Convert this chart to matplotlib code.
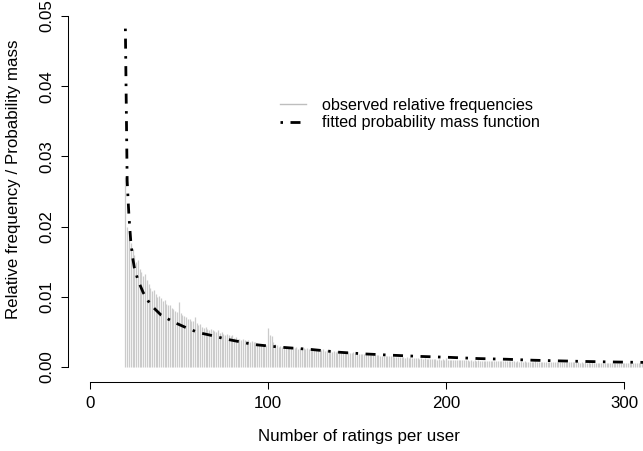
import matplotlib
matplotlib.use("Agg")
import matplotlib.pyplot as plt
from matplotlib.lines import Line2D

plt.rcParams["font.family"] = ["Liberation Sans", "DejaVu Sans"]

# observed relative frequencies, one value per count starting at 20
first_count = 20
observed = [
    0.0270, 0.0200, 0.0188, 0.0176, 0.0168, 0.0160, 0.0150, 0.0152, 0.0140, 0.0136,
    0.0130, 0.0133, 0.0124, 0.0118, 0.0112, 0.0108, 0.0110, 0.0104, 0.0100, 0.0101,
    0.0098, 0.0094, 0.0095, 0.0090, 0.0088, 0.0089, 0.0084, 0.0083, 0.0080, 0.0079,
    0.0092, 0.0077, 0.0074, 0.0073, 0.0071, 0.0069, 0.0068, 0.0066, 0.0065, 0.0071,
    0.0062, 0.0060, 0.0061, 0.0057, 0.0056, 0.0057, 0.0054, 0.0053, 0.0054, 0.0052,
    0.0051, 0.0050, 0.0052, 0.0049, 0.0050, 0.0047, 0.0046, 0.0047, 0.0045, 0.0044,
    0.0045, 0.0041, 0.0042, 0.0040, 0.0040, 0.0039, 0.0040, 0.0038, 0.0037, 0.0038,
    0.0036, 0.0037, 0.0035, 0.0035, 0.0034, 0.0032, 0.0033, 0.0031, 0.0032, 0.0031,
    0.0055, 0.0046, 0.0044, 0.0036, 0.0033, 0.0031, 0.0029, 0.0030, 0.0029, 0.0028,
    0.0029, 0.0028, 0.0029, 0.0027, 0.0028, 0.0027, 0.0028, 0.0026, 0.0027, 0.0026,
    0.0027, 0.0026, 0.0027, 0.0025, 0.0026, 0.0027, 0.0025, 0.0026, 0.0024, 0.0025,
    0.0024, 0.0025, 0.0023, 0.0024, 0.0023, 0.0024, 0.0022, 0.0023, 0.0022, 0.0023,
    0.00215, 0.0022, 0.0021, 0.0022, 0.0020, 0.0021, 0.00205, 0.0020, 0.0021, 0.0019,
    0.00195, 0.0019, 0.00185, 0.0019, 0.0018, 0.00185, 0.00178, 0.0017, 0.00176, 0.00168,
    0.0017, 0.00165, 0.0017, 0.00162, 0.00158, 0.0016, 0.00155, 0.00158, 0.0015, 0.00152,
    0.0015, 0.00145, 0.00148, 0.0014, 0.00143, 0.00136, 0.0014, 0.00132, 0.00136, 0.0013,
    0.00142, 0.00128, 0.0013, 0.00125, 0.00128, 0.0012, 0.00124, 0.00118, 0.00122, 0.00116,
    0.00116, 0.0011, 0.00114, 0.00108, 0.00112, 0.00106, 0.0011, 0.00105, 0.00108, 0.00103,
    0.00125, 0.00102, 0.00106, 0.001, 0.00104, 0.00098, 0.00102, 0.00097, 0.001, 0.00095,
    0.00098, 0.00094, 0.00097, 0.00092, 0.00095, 0.0009, 0.00094, 0.00089, 0.00093, 0.00088,
    0.00092, 0.00087, 0.0009, 0.00086, 0.00089, 0.00085, 0.00088, 0.00084, 0.00087, 0.00083,
    0.00086, 0.00082, 0.00085, 0.00081, 0.00084, 0.0008, 0.00083, 0.00079, 0.00082, 0.00078,
    0.00081, 0.00077, 0.0008, 0.00076, 0.00079, 0.00075, 0.00078, 0.00074, 0.00077, 0.00074,
    0.00082, 0.00073, 0.00076, 0.00072, 0.00075, 0.00071, 0.00074, 0.0007, 0.00073, 0.0007,
    0.00072, 0.00069, 0.00071, 0.00068, 0.0007, 0.00067, 0.00069, 0.00066, 0.00069, 0.00066,
    0.00068, 0.00065, 0.00067, 0.00064, 0.00066, 0.00063, 0.00066, 0.00063, 0.00065, 0.00062,
    0.00064, 0.00062, 0.00064, 0.00061, 0.00063, 0.0006, 0.00062, 0.0006, 0.00062, 0.00059,
    0.00061, 0.00058, 0.0006, 0.00058, 0.0006, 0.00057, 0.00059, 0.00057, 0.00058, 0.00056,
    0.00062, 0.00056, 0.00058, 0.00055, 0.00057, 0.00055, 0.00056, 0.00054, 0.00056, 0.00053,
    0.00055, 0.00053, 0.00054,
]
counts = list(range(first_count, first_count + len(observed)))

fit_x = [20, 21, 22, 23, 24, 25, 27, 30, 34, 40, 47, 55, 61, 70, 76, 92, 108,
         124, 140, 155, 170, 186, 202, 218, 234, 249, 265, 281, 297, 312]
fit_y = [0.0482, 0.0265, 0.0215, 0.0180, 0.0157, 0.0142, 0.0124, 0.0106, 0.0089,
         0.0074, 0.0064, 0.0055, 0.0049, 0.0044, 0.0040, 0.0032, 0.0028, 0.0025,
         0.0021, 0.00185, 0.00167, 0.00150, 0.00137, 0.00120, 0.00110, 0.00096,
         0.00086, 0.00077, 0.00070, 0.00065]

x_ticks = [0, 100, 200, 300]
y_ticks = [0.00, 0.01, 0.02, 0.03, 0.04, 0.05]
labels = ["observed relative frequencies", "fitted probability mass function"]

W, H = 643, 451
fig = plt.figure(figsize=(W / 100, H / 100), dpi=100)
# plot region in pixels (R-like, figure cropped on top and right)
left_px, right_px, top_px, bottom_px = 68, 650, -23.6, 382
ax = fig.add_axes([left_px / W, 1 - bottom_px / H,
                   (right_px - left_px) / W, (bottom_px - top_px) / H])

bar_color = "#cbcbcb"
dotdash = (0.9, 2.7, 3.6, 2.7)

ax.vlines(counts, 0, observed, colors=bar_color, linewidth=0.9)
ax.plot(fit_x, fit_y, color="black", linewidth=2.0, dashes=dotdash,
        solid_capstyle="butt", dash_capstyle="butt")

ax.set_xlim(-12.2, 314.4)
ax.set_ylim(-0.00214, 0.05564)

for side in ["top", "right"]:
    ax.spines[side].set_visible(False)
ax.spines["left"].set_bounds(0, 0.05)
ax.spines["bottom"].set_bounds(0, 300)
for side in ["left", "bottom"]:
    ax.spines[side].set_linewidth(0.75)

ax.set_xticks(x_ticks)
ax.set_xticklabels([str(v) for v in x_ticks])
ax.set_yticks(y_ticks)
ax.set_yticklabels(["%.2f" % v for v in y_ticks])
ax.tick_params(direction="out", length=5, width=0.75, labelsize=12.2, pad=5)
plt.setp(ax.get_yticklabels(), rotation=90, va="center")

ax.set_xlabel("Number of ratings per user", fontsize=12.2, va="center")
ax.xaxis.set_label_coords(0.5, (bottom_px - 437) / (bottom_px - top_px))
ax.set_ylabel("Relative frequency / Probability mass", fontsize=12.2, va="center")
ax.yaxis.set_label_coords((14 - left_px) / (right_px - left_px), 0.5)

handles = [
    Line2D([], [], color="#bebebe", linewidth=1.0),
    Line2D([], [], color="black", linewidth=2.0, dashes=dotdash,
           dash_capstyle="butt"),
]
ax.legend(handles, labels, loc="upper left", frameon=False, fontsize=11.6,
          bbox_to_anchor=(280 / W, 1 - 98 / H), bbox_transform=fig.transFigure,
          borderpad=0, borderaxespad=0, handlelength=1.6, handletextpad=1.0,
          labelspacing=0.15)

fig.savefig("out.png", dpi=100)
